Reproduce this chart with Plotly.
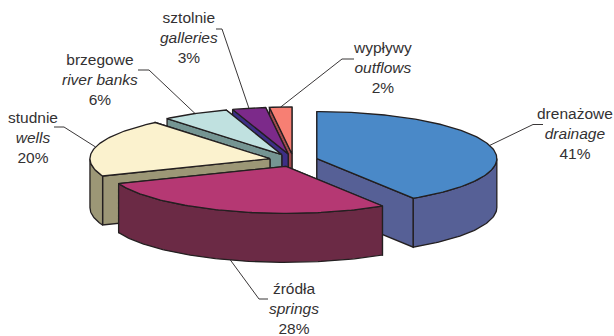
import numpy as np
import plotly.graph_objects as go

# Share of each source type, clockwise from twelve o'clock
names_pl = ["drenażowe", "źródła", "studnie", "brzegowe", "sztolnie", "wypływy"]
names_en = ["drainage", "springs", "wells", "river banks", "galleries", "outflows"]
shares = [41, 28, 20, 6, 3, 2]

top_colors = ["#4A89C8", "#B53873", "#FBF2CE", "#C0E1E0", "#7C2A8A", "#F77F73"]
wall_colors = ["#566096", "#6B2A45", "#9C9776", "#759593", "#3D2F85", "#A14B4D"]

# Label centres and the elbow of each leader line
label_x = [575, 294, 33, 100, 189, 382]
label_y = [133.5, 308.5, 137, 79.5, 37.5, 67.5]
elbow_from = [(533, 124.5), (259, 299), (64, 127), (149, 70), (222, 29), (342, 59)]
elbow_to = [(543, 124.5), (268, 299), (54, 127), (138, 70), (216, 29), (354, 59)]

# Projection of the tilted pie
CX, CY = 293.5, 160.3
RX, RY = 180.0, 47.0
DEPTH = 49.0
EXPLODE = 0.135
INK = "#231F20"
LABEL_FONT = "Liberation Sans, sans-serif"


def rim(apex, angle):
    a = np.radians(angle)
    return apex[0] + RX * np.sin(a), apex[1] - RY * np.cos(a)


def polygon(xs, ys, fill):
    return go.Scatter(
        x=list(xs) + [xs[0]],
        y=list(ys) + [ys[0]],
        mode="lines",
        fill="toself",
        fillcolor=fill,
        line=dict(color=INK, width=1.3),
        hoverinfo="skip",
        showlegend=False,
    )


def arc(apex, start, end):
    steps = max(int(abs(end - start)), 2) + 1
    angles = np.linspace(start, end, steps)
    return rim(apex, angles)


edges = np.concatenate([[0], np.cumsum(shares)]) * 3.6
mids = (edges[:-1] + edges[1:]) / 2
apexes = [rim((CX, CY), m) for m in mids]
apexes = [(CX + (x - CX) * EXPLODE, CY + (y - CY) * EXPLODE) for x, y in apexes]

fig = go.Figure()

# Painter's order: back slices first, the front slice last
for i in [5, 4, 3, 2, 0, 1]:
    apex = apexes[i]
    start, end = edges[i], edges[i + 1]

    # The cut face nearer the viewer goes on top of the farther one
    for edge in sorted((start, end), key=lambda e: rim(apex, e)[1]):
        rx, ry = rim(apex, edge)
        fig.add_trace(polygon(
            [apex[0], rx, rx, apex[0]],
            [apex[1], ry, ry + DEPTH, apex[1] + DEPTH],
            wall_colors[i],
        ))

    # Outer wall, only where the rim faces the viewer
    lo, hi = max(start, 90), min(end, 270)
    if lo < hi:
        ax, ay = arc(apex, lo, hi)
        fig.add_trace(polygon(
            list(ax) + list(ax[::-1]),
            list(ay) + list(ay[::-1] + DEPTH),
            wall_colors[i],
        ))

    ax, ay = arc(apex, start, end)
    fig.add_trace(polygon([apex[0]] + list(ax), [apex[1]] + list(ay), top_colors[i]))

# Leader lines run from the rim at each slice's middle angle
for i, mid in enumerate(mids):
    sx, sy = rim(apexes[i], mid)
    if 90 < mid < 270:
        sy += DEPTH
    fig.add_trace(go.Scatter(
        x=[sx, elbow_from[i][0], elbow_to[i][0]],
        y=[sy, elbow_from[i][1], elbow_to[i][1]],
        mode="lines",
        line=dict(color=INK, width=0.9),
        hoverinfo="skip",
        showlegend=False,
    ))

for i in range(len(shares)):
    fig.add_annotation(
        x=label_x[i],
        y=label_y[i],
        text=f"{names_pl[i]}<br><i>{names_en[i]}</i><br>{shares[i]}%",
        showarrow=False,
        xanchor="center",
        yanchor="middle",
        align="center",
        font=dict(family=LABEL_FONT, size=15.5, color="#333132"),
    )

fig.update_layout(
    width=614,
    height=336,
    margin=dict(l=0, r=0, t=0, b=0),
    paper_bgcolor="white",
    plot_bgcolor="white",
    showlegend=False,
    xaxis=dict(range=[0, 614], visible=False, fixedrange=True),
    yaxis=dict(range=[336, 0], visible=False, fixedrange=True),
)

fig.write_html("out.html", config=dict(displayModeBar=False))
